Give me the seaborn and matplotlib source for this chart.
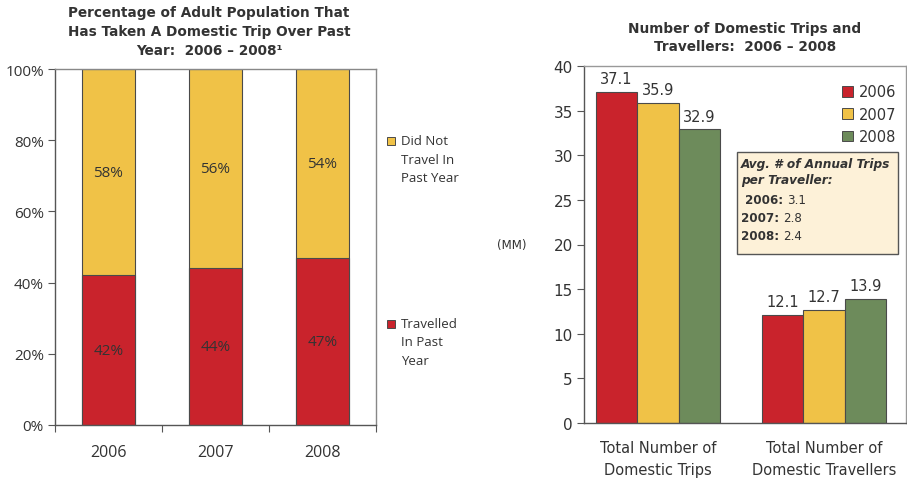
import matplotlib
matplotlib.use("Agg")
import matplotlib.pyplot as plt
from matplotlib.patches import Rectangle, Patch
from matplotlib.text import Annotation
import seaborn as sns
import pandas as pd

sns.set_theme(style="white")
plt.rcParams["font.family"] = ["DejaVu Sans"]

# ---- data ----
years = ["2006", "2007", "2008"]
travelled_pct = [42, 44, 47]
not_travelled_pct = [58, 56, 54]
population_total_pct = [100, 100, 100]

trip_categories = ["Total Number of\nDomestic Trips", "Total Number of\nDomestic Travellers"]
trips_mm = {"2006": [37.1, 12.1], "2007": [35.9, 12.7], "2008": [32.9, 13.9]}
avg_trips_per_traveller = [3.1, 2.8, 2.4]

RED = "#C9232C"
YELLOW = "#F0C247"
GREEN = "#6D8B5B"
EDGE = "#4A4A4A"
TEXT = "#333333"
SPINE = "#555555"

fig = plt.figure(figsize=(9.07, 4.85), dpi=100)

# ================= left: share of population =================
axL = fig.add_axes([55 / 907, 59 / 485, 321 / 907, 356 / 485])
dfL = pd.DataFrame({"year": years, "total": population_total_pct,
                    "travelled": travelled_pct, "not": not_travelled_pct})
sns.barplot(data=dfL, x="year", y="total", color=YELLOW, width=0.5,
            edgecolor=EDGE, linewidth=0.8, saturation=1, ax=axL)
sns.barplot(data=dfL, x="year", y="travelled", color=RED, width=0.5,
            edgecolor=EDGE, linewidth=0.8, saturation=1, ax=axL)
axL.set_xlim(-0.5, 2.5)
axL.set_ylim(0, 100)
axL.set_xlabel("")
axL.set_ylabel("")
axL.set_yticks([0, 20, 40, 60, 80, 100])
axL.set_yticklabels([f"{v}%" for v in [0, 20, 40, 60, 80, 100]],
                    fontsize=11, color=TEXT, family="Open Sans")
axL.tick_params(axis="y", length=5, width=0.8, color=SPINE, direction="out", left=True, pad=3)
axL.tick_params(axis="x", which="major", length=0, pad=14, labelsize=11.5, labelcolor=TEXT)
axL.set_xticks([-0.5, 0.5, 1.5, 2.5], minor=True)
axL.tick_params(axis="x", which="minor", length=5, width=0.8, color=SPINE, direction="out", bottom=True)
for lbl in axL.get_xticklabels():
    lbl.set_family("Open Sans")
for name, sp in axL.spines.items():
    sp.set_color(SPINE if name in ("left", "bottom") else "#888888")
    sp.set_linewidth(1.0)
for i in range(3):
    t = travelled_pct[i]
    axL.text(i, t / 2, f"{t}%", ha="center", va="center", fontsize=11,
             color=TEXT, family="Open Sans")
    axL.text(i, t + (100 - t) / 2, f"{not_travelled_pct[i]}%", ha="center",
             va="center", fontsize=11, color=TEXT, family="Open Sans")

fig.text(209 / 907, 1 - 32 / 485,
         "Percentage of Adult Population That\nHas Taken A Domestic Trip Over Past\nYear:  2006 \u2013 2008\u00b9",
         ha="center", va="center", fontsize=9.8, fontweight="bold", color=TEXT,
         linespacing=1.45)

# left legend
for ytop, col, label in [(142, YELLOW, "Did Not\nTravel In\nPast Year"),
                         (325, RED, "Travelled\nIn Past\nYear")]:
    fig.patches.append(Rectangle((387 / 907, 1 - (ytop + 4) / 485), 8 / 907, 8 / 485,
                                 transform=fig.transFigure, facecolor=col,
                                 edgecolor=EDGE, linewidth=0.7))
    fig.text(401 / 907, 1 - (ytop - 7) / 485, label, ha="left", va="top",
             fontsize=9.5, color=TEXT, family="Open Sans", linespacing=1.55)

# ================= right: trips and travellers =================
axR = fig.add_axes([584 / 907, 61 / 485, 322 / 907, 357 / 485])
rows = []
for y in years:
    for c, v in zip(trip_categories, trips_mm[y]):
        rows.append({"category": c, "year": y, "value": v})
dfR = pd.DataFrame(rows)
sns.barplot(data=dfR, x="category", y="value", hue="year",
            palette=[RED, YELLOW, GREEN], width=0.75, edgecolor=EDGE,
            linewidth=0.8, saturation=1, ax=axR)
axR.set_xlim(-0.445, 1.495)
axR.set_ylim(0, 40)
axR.set_yticks(range(0, 41, 5))
axR.tick_params(axis="y", length=5, width=0.8, color=SPINE, direction="out",
                left=True, labelsize=11, labelcolor=TEXT, pad=3)
axR.tick_params(axis="x", length=0, pad=12, labelsize=10.5, labelcolor=TEXT)
for lbl in axR.get_xticklabels():
    lbl.set_linespacing(1.65)
axR.set_xlabel("")
axR.set_ylabel("(MM)", rotation=0, fontsize=8.5, color=TEXT, labelpad=30, va="center")
for name, sp in axR.spines.items():
    sp.set_color(SPINE if name in ("left", "bottom") else "#999999")
    sp.set_linewidth(1.0)
for cont in axR.containers:
    axR.bar_label(cont, fmt="%.1f", padding=4, fontsize=10.5, color=TEXT)

handles = [Patch(facecolor=c, edgecolor=EDGE, linewidth=0.7) for c in [RED, YELLOW, GREEN]]
axR.legend(handles, years, loc="upper right", bbox_to_anchor=(1.01, 0.985),
           frameon=False, fontsize=10.5, handlelength=0.75, handleheight=0.75,
           handletextpad=0.4, labelspacing=0.5, labelcolor=TEXT)

fig.text(745 / 907, 1 - 38 / 485, "Number of Domestic Trips and\nTravellers:  2006 \u2013 2008",
         ha="center", va="center", fontsize=9.8, fontweight="bold", color=TEXT,
         linespacing=1.45)

# annual trips callout
fig.patches.append(Rectangle((737 / 907, 1 - 255 / 485), 161 / 907, 102 / 485,
                             transform=fig.transFigure, facecolor="#FDF1D8",
                             edgecolor=SPINE, linewidth=1.0, zorder=5))
fig.text(741 / 907, 1 - 158 / 485, "Avg. # of Annual Trips\nper Traveller:",
         ha="left", va="top", fontsize=8.7, fontweight="bold", style="italic",
         color=TEXT, linespacing=1.3, zorder=6)
for k, (y, v) in enumerate(zip(years, avg_trips_per_traveller)):
    ypx = 201 + k * 18
    x0 = 745 if k == 0 else 741
    t = fig.text(x0 / 907, 1 - ypx / 485, f"{y}:", ha="left", va="center",
                 fontsize=8.6, fontweight="bold", color=TEXT, zorder=6)
    val = Annotation(f"{v}", xy=(1, 0.5), xycoords=t, xytext=(3, 0),
                     textcoords="offset points", ha="left", va="center",
                     fontsize=8.6, color=TEXT, annotation_clip=False)
    val.set_zorder(6)
    fig.add_artist(val)

fig.savefig("out.png", dpi=100)
